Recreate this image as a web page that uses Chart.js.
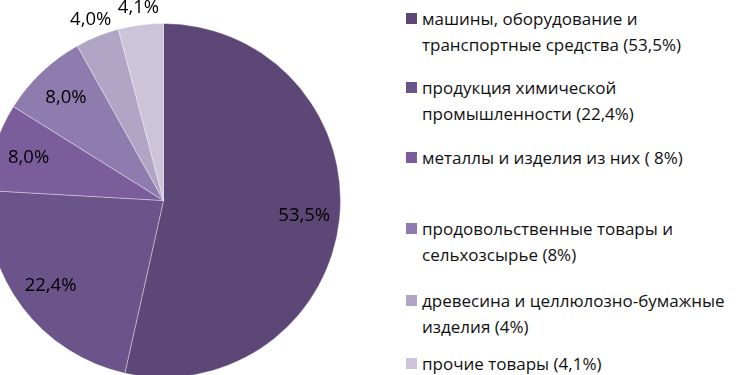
<!DOCTYPE html>
<html>
<head>
<meta charset="utf-8">
<script src="https://cdn.jsdelivr.net/npm/chart.js@4/dist/chart.umd.min.js"></script>
<style>
    html, body {
        margin: 0;
        padding: 0;
        width: 748px;
        height: 375px;
        overflow: hidden;
        background: #fff;
        font-family: "Open Sans", sans-serif;
    }
    #pieBox {
        position: absolute;
        left: -54px;
        top: -17px;
        width: 435px;
        height: 435px;
    }
    #legend {
        position: absolute;
        left: 406px;
        top: 0;
        width: 342px;
    }
    .legend-item {
        position: absolute;
        left: 0;
        white-space: nowrap;
        font-size: 17px;
        line-height: 26px;
        color: #111;
    }
    .legend-box {
        position: absolute;
        left: 0;
        top: 7px;
        width: 11px;
        height: 11px;
    }
    .legend-text {
        margin-left: 16px;
    }
</style>
</head>
<body>
<div id="pieBox"><canvas id="pieChart"></canvas></div>
<div id="legend"></div>

<script>
// Структура экспорта (%)
const categories = [
    ['машины, оборудование и', 'транспортные средства (53,5%)'],
    ['продукция химической', 'промышленности (22,4%)'],
    ['металлы и изделия из них ( 8%)'],
    ['продовольственные товары и', 'сельхозсырье (8%)'],
    ['древесина и целлюлозно-бумажные', 'изделия (4%)'],
    ['прочие товары (4,1%)']
];
const shares = [53.5, 22.4, 8.0, 8.0, 4.0, 4.1];
const sliceLabels = ['53,5%', '22,4%', '8,0%', '8,0%', '4,0%', '4,1%'];
const sliceColors = ['#5d4777', '#6b5489', '#7b5d9c', '#8f7cae', '#b0a5c5', '#ccc4d9'];

// top of each legend entry (px)
const LEGEND_Y = [6, 75, 145, 216, 288, 351];

// draws the percent labels, small slices get them outside
const sliceLabelPlugin = {
    id: 'sliceLabels',
    afterDatasetsDraw(chart) {
        const ctx = chart.ctx;
        const meta = chart.getDatasetMeta(0);
        ctx.save();
        ctx.font = '18.5px "Open Sans", sans-serif';
        ctx.fillStyle = '#000';
        ctx.textAlign = 'center';
        ctx.textBaseline = 'middle';
        meta.data.forEach((arc, i) => {
            const p = arc.getProps(['x', 'y', 'startAngle', 'endAngle', 'outerRadius'], true);
            const mid = (p.startAngle + p.endAngle) / 2;
            const r = shares[i] < 5 ? p.outerRadius * 1.10 : p.outerRadius * 0.8;
            ctx.fillText(sliceLabels[i], p.x + Math.cos(mid) * r, p.y + Math.sin(mid) * r);
        });
        ctx.restore();
    }
};

function buildLegend() {
    const legend = document.getElementById('legend');
    let html = '';
    categories.forEach((lines, i) => {
        html += `
            <div class="legend-item" style="top:${LEGEND_Y[i]}px">
                <span class="legend-box" style="background:${sliceColors[i]}"></span>
                <div class="legend-text">${lines.join('<br>')}</div>
            </div>
        `;
    });
    legend.innerHTML = html;
}

function createChart() {
    new Chart(document.getElementById('pieChart'), {
        type: 'pie',
        data: {
            labels: categories.map(c => c.join(' ')),
            datasets: [{
                data: shares,
                backgroundColor: sliceColors,
                borderColor: 'rgba(255, 255, 255, 0.35)',
                borderWidth: 1
            }]
        },
        options: {
            responsive: true,
            maintainAspectRatio: false,
            animation: false,
            layout: { padding: 40 },
            plugins: {
                legend: { display: false },
                tooltip: { enabled: false }
            }
        },
        plugins: [sliceLabelPlugin]
    });
}

buildLegend();
createChart();
</script>
</body>
</html>
